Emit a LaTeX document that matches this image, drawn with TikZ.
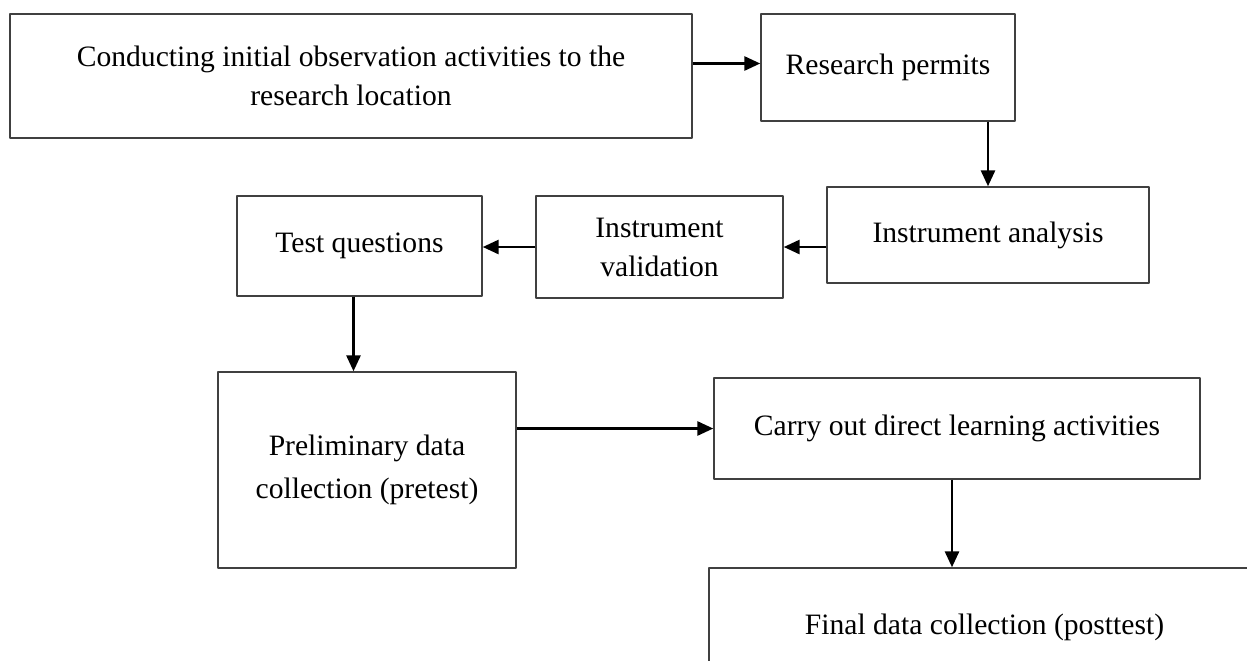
\documentclass[tikz,border=0pt]{standalone}
\usepackage{fontspec}
\setmainfont{Liberation Serif}
\usetikzlibrary{arrows.meta}
\begin{document}
\begin{tikzpicture}[x=0.5pt, y=-0.5pt, font=\fontsize{14.8}{19.5}\selectfont, line join=round, >={Triangle[length=8pt,width=7pt]},
	stepbox/.style={draw=black!75, line width=0.7pt, inner sep=0pt, align=center},
	flow/.style={->, line width=1.4pt}]
				\useasboundingbox (0,0) rectangle (1247,660);
				\clip (0,0) rectangle (1247,660);
				\node[stepbox, minimum width=341pt, minimum height=62pt] (observe) at (351,76) {Conducting initial observation activities to the\\research location};
				\node[stepbox, minimum width=127pt, minimum height=53.5pt] (permit) at (888,67.5) {Research permits};
				\node[stepbox, minimum width=161pt, minimum height=48pt] (analysis) at (988,235) {Instrument analysis};
				\node[stepbox, minimum width=123.5pt, minimum height=51pt] (valid) at (659.5,247) {Instrument\\validation};
				\node[stepbox, minimum width=122.5pt, minimum height=50pt] (test) at (359.5,246) {Test questions};
				\node[stepbox, minimum width=149pt, minimum height=98pt] (pretest) at (367,470) {Preliminary data\\[2pt]collection (pretest)};
				\node[stepbox, minimum width=243pt, minimum height=50.5pt] (learn) at (957,428.5) {Carry out direct learning activities};
				\node[stepbox, minimum width=275.5pt, minimum height=59pt] (posttest) at (984.5,627) {Final data collection (posttest)};
				\draw[flow] ([yshift=2pt]observe.east |- permit.west) -- ([yshift=2pt]permit.west);
				\draw[flow] (analysis.north |- permit.south) -- (analysis.north);
				\draw[flow] (analysis.west |- valid.east) -- (valid.east);
				\draw[flow] (valid.west) -- (valid.west -| test.east);
				\draw[flow] ([xshift=-3pt]test.south) -- ([xshift=-3pt]test.south |- pretest.north);
				\draw[flow] (pretest.east |- learn.west) -- (learn.west);
				\draw[flow] ([xshift=-2.5pt]learn.south) -- ([xshift=-2.5pt]learn.south |- posttest.north);
			\end{tikzpicture}
\end{document}
